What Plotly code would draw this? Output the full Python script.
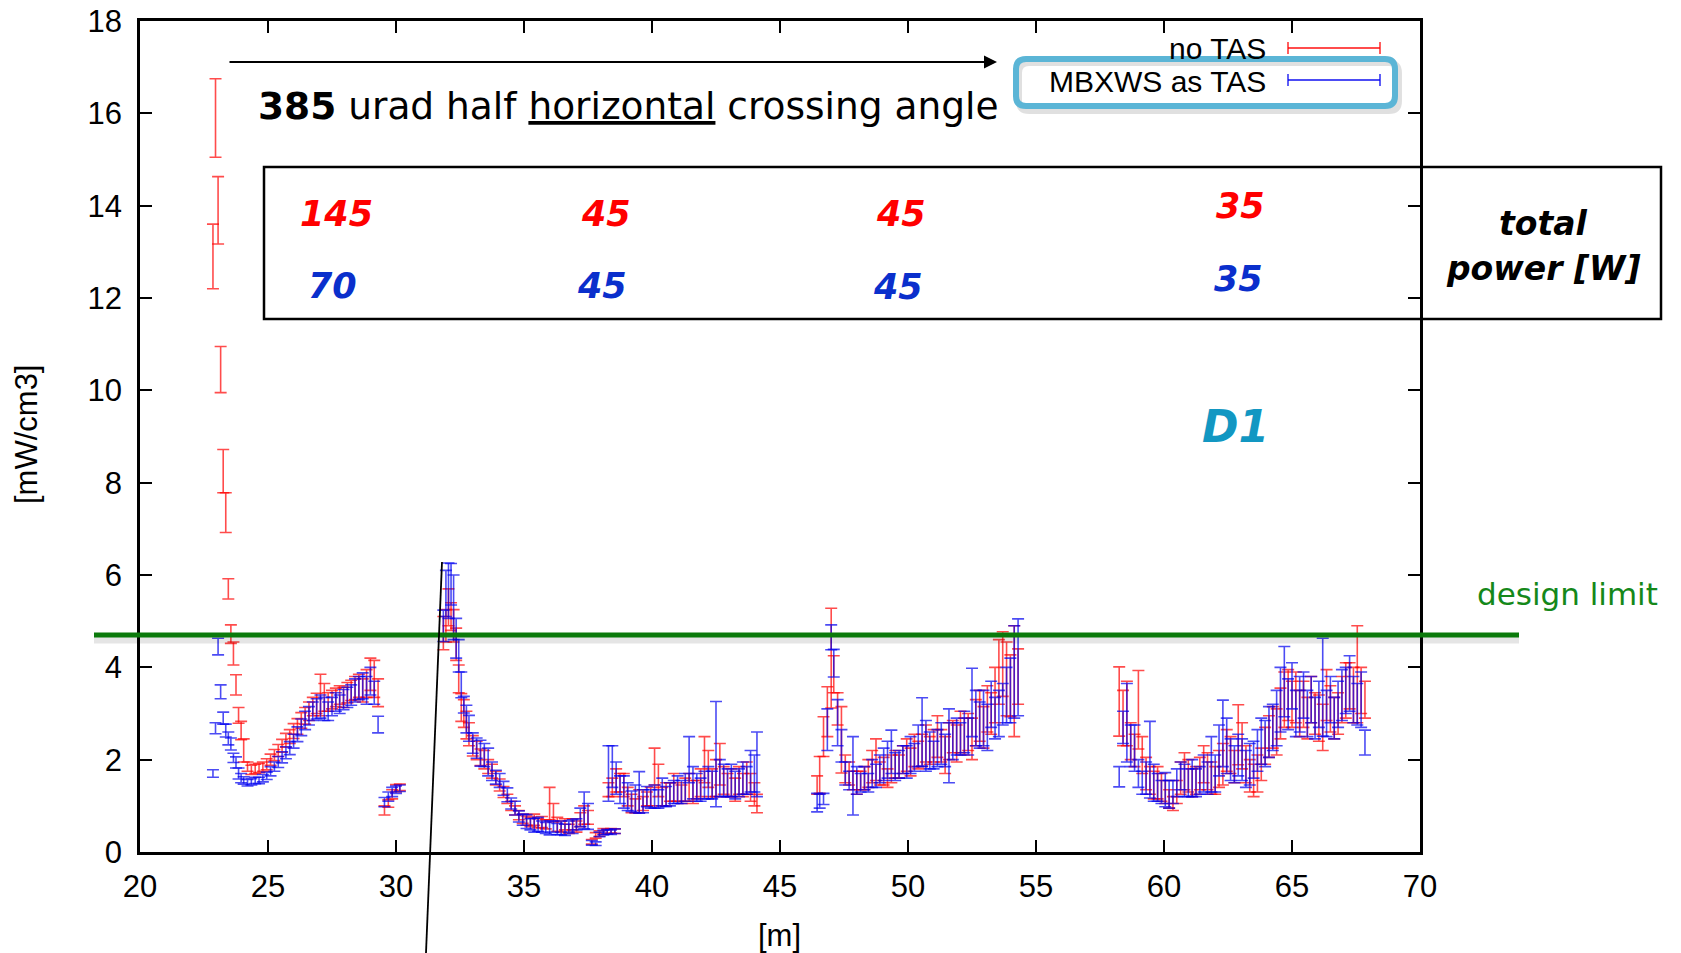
import plotly.graph_objects as go

# ---------------- data ----------------
x_s1 = [22.85, 22.95, 23.05, 23.15, 23.25, 23.35, 23.45, 23.55, 23.65, 23.75, 23.85, 23.95, 24.05,
        24.2, 24.35, 24.5, 24.65, 24.8, 24.95, 25.1, 25.25, 25.4, 25.55, 25.7, 25.85, 26.0, 26.15,
        26.3, 26.45, 26.6, 26.75, 26.9, 27.05, 27.2, 27.35, 27.5, 27.65, 27.8, 27.95, 28.1, 28.25,
        28.4, 28.55, 28.7, 28.85, 29.0, 29.15, 29.3, 29.55, 29.7, 29.85, 30.0, 30.15]
red_s1 = [12.9, 15.9, 13.9, 10.45, 8.25, 7.35, 5.7, 4.72, 4.3, 3.62, 2.96, 2.63, 2.2,
          1.85, 1.78, 1.8, 1.82, 1.85, 1.9, 2.0, 2.1, 2.2, 2.3, 2.42, 2.5, 2.62, 2.72,
          2.85, 2.95, 3.05, 3.15, 3.22, 3.4, 3.35, 3.25, 3.3, 3.35, 3.4, 3.35, 3.45, 3.5,
          3.55, 3.6, 3.5, 3.65, 3.85, 3.75, 3.45, 0.9, 1.05, 1.25, 1.38, 1.4]
red_err_s1 = [0.7, 0.85, 0.73, 0.5, 0.47, 0.43, 0.22, 0.2, 0.25, 0.22, 0.17, 0.2, 0.25,
              0.1, 0.1, 0.1, 0.1, 0.1, 0.12, 0.12, 0.12, 0.13, 0.14, 0.15, 0.15, 0.16, 0.17,
              0.17, 0.18, 0.2, 0.2, 0.22, 0.45, 0.3, 0.2, 0.2, 0.2, 0.2, 0.22, 0.22, 0.22,
              0.25, 0.25, 0.25, 0.3, 0.35, 0.4, 0.3, 0.1, 0.08, 0.1, 0.08, 0.07]
blue_s1 = [1.7, 2.68, 4.45, 3.47, 2.9, 2.63, 2.46, 2.34, 2.04, 1.94, 1.7, 1.6, 1.55,
           1.5, 1.52, 1.55, 1.55, 1.6, 1.65, 1.75, 1.85, 1.95, 2.05, 2.15, 2.25, 2.4, 2.55,
           2.7, 2.85, 2.95, 3.05, 3.1, 3.15, 3.1, 3.05, 3.15, 3.25, 3.2, 3.3, 3.35, 3.4,
           3.5, 3.55, 3.6, 3.5, 3.7, 3.45, 2.76, 1.08, 1.2, 1.3, 1.35, 1.38]
blue_err_s1 = [0.08, 0.12, 0.18, 0.15, 0.13, 0.14, 0.14, 0.13, 0.1, 0.12, 0.12, 0.1, 0.08,
               0.07, 0.07, 0.07, 0.07, 0.08, 0.08, 0.1, 0.1, 0.12, 0.12, 0.13, 0.14, 0.15, 0.16,
               0.18, 0.2, 0.2, 0.2, 0.22, 0.25, 0.25, 0.2, 0.2, 0.2, 0.2, 0.22, 0.22, 0.22,
               0.25, 0.25, 0.28, 0.3, 0.3, 0.25, 0.18, 0.1, 0.1, 0.1, 0.08, 0.07]

x_s2 = [31.85, 31.95, 32.05, 32.15, 32.25, 32.35, 32.45, 32.55, 32.65, 32.75, 32.85,
        33.0, 33.15, 33.3, 33.45, 33.6, 33.75, 33.9, 34.05, 34.2, 34.35, 34.5, 34.65, 34.8, 34.95,
        35.1, 35.25, 35.4, 35.55, 35.7, 35.85, 36.0, 36.15, 36.3, 36.45, 36.6, 36.75, 36.9,
        37.05, 37.2, 37.35, 37.5, 37.65, 37.8, 37.95, 38.1, 38.25, 38.4, 38.55]
red_s2 = [4.74, 4.9, 5.3, 5.1, 4.9, 4.5, 3.75, 3.13, 3.0, 2.75, 2.55,
          2.3, 2.2, 2.05, 2.0, 1.85, 1.75, 1.6, 1.45, 1.3, 1.15, 1.0, 0.9, 0.8, 0.72,
          0.68, 0.65, 0.7, 0.62, 0.65, 0.6, 1.05, 0.85, 0.6, 0.55, 0.6, 0.5, 0.6,
          0.55, 0.7, 0.8, 0.75, 0.22, 0.36, 0.4, 0.45, 0.44, 0.46, 0.45]
red_err_s2 = [0.36, 0.35, 0.4, 0.3, 0.35, 0.35, 0.3, 0.3, 0.3, 0.3, 0.25,
              0.22, 0.2, 0.18, 0.2, 0.15, 0.15, 0.15, 0.13, 0.12, 0.1, 0.1, 0.1, 0.1, 0.1,
              0.1, 0.1, 0.12, 0.1, 0.12, 0.1, 0.35, 0.2, 0.15, 0.12, 0.12, 0.1, 0.12,
              0.12, 0.15, 0.2, 0.15, 0.05, 0.06, 0.06, 0.06, 0.05, 0.05, 0.05]
blue_s2 = [4.9, 5.6, 5.66, 5.8, 5.3, 4.63, 4.25, 3.62, 3.19, 2.88, 2.68,
           2.36, 2.25, 2.14, 2.1, 1.95, 1.75, 1.62, 1.55, 1.38, 1.24, 1.05, 0.95, 0.77, 0.7,
           0.66, 0.6, 0.58, 0.6, 0.55, 0.52, 0.52, 0.55, 0.5, 0.52, 0.48, 0.55, 0.55,
           0.6, 0.75, 0.9, 0.77, 0.2, 0.18, 0.38, 0.42, 0.44, 0.43, 0.45]
blue_err_s2 = [0.34, 0.5, 0.6, 0.45, 0.7, 0.43, 0.35, 0.28, 0.18, 0.3, 0.28,
               0.22, 0.22, 0.28, 0.25, 0.3, 0.2, 0.15, 0.15, 0.15, 0.15, 0.12, 0.15, 0.12, 0.12,
               0.15, 0.12, 0.15, 0.15, 0.12, 0.12, 0.15, 0.12, 0.12, 0.15, 0.12, 0.12, 0.15,
               0.12, 0.2, 0.4, 0.28, 0.05, 0.04, 0.05, 0.05, 0.05, 0.05, 0.05]

x_s3 = [38.3, 38.45, 38.6, 38.75, 38.9, 39.05, 39.2, 39.35, 39.5, 39.65, 39.8, 39.95,
        40.1, 40.25, 40.4, 40.55, 40.7, 40.85, 41.0, 41.15, 41.3, 41.45, 41.6, 41.75, 41.9,
        42.05, 42.2, 42.35, 42.5, 42.65, 42.8, 42.95, 43.1, 43.25, 43.4, 43.55, 43.7, 43.85,
        44.0, 44.1]
red_s3 = [1.35, 1.4, 1.55, 1.5, 1.45, 1.2, 1.05, 1.0, 1.1, 1.05, 1.15, 1.2,
          1.85, 1.55, 1.2, 1.25, 1.3, 1.4, 1.3, 1.25, 1.35, 1.4, 1.3, 1.35, 1.5,
          2.0, 1.8, 1.5, 1.6, 1.9, 1.55, 1.45, 1.5, 1.35, 1.55, 1.45, 1.6, 1.4,
          1.25, 1.05]
red_err_s3 = [0.15, 0.2, 0.25, 0.2, 0.25, 0.2, 0.2, 0.15, 0.25, 0.15, 0.15, 0.2,
              0.4, 0.35, 0.2, 0.25, 0.2, 0.3, 0.2, 0.2, 0.25, 0.3, 0.25, 0.2, 0.3,
              0.5, 0.4, 0.3, 0.4, 0.45, 0.3, 0.25, 0.3, 0.25, 0.3, 0.25, 0.35, 0.3,
              0.25, 0.2]
blue_s3 = [1.7, 1.85, 1.6, 1.35, 1.3, 1.2, 1.1, 1.15, 1.29, 1.1, 1.2, 1.15,
           1.2, 1.15, 1.3, 1.2, 1.25, 1.3, 1.35, 1.3, 1.4, 2.0, 1.5, 1.4, 1.35,
           1.45, 1.5, 1.45, 2.12, 1.6, 1.55, 1.5, 1.55, 1.45, 1.5, 1.6, 1.55, 1.75,
           1.7, 1.9]
blue_err_s3 = [0.6, 0.45, 0.35, 0.3, 0.35, 0.3, 0.22, 0.3, 0.45, 0.25, 0.22, 0.2,
               0.25, 0.2, 0.3, 0.22, 0.25, 0.25, 0.3, 0.25, 0.3, 0.5, 0.35, 0.3, 0.25,
               0.3, 0.35, 0.3, 1.14, 0.4, 0.35, 0.3, 0.35, 0.3, 0.3, 0.35, 0.3, 0.45,
               0.4, 0.7]

x_s4 = [46.45, 46.55, 46.7, 46.85, 47.0, 47.1, 47.25, 47.4, 47.55, 47.7, 47.85, 48.0,
        48.15, 48.3, 48.45, 48.6, 48.75, 48.9, 49.05, 49.2, 49.35, 49.5, 49.65, 49.8, 49.95,
        50.1, 50.25, 50.4, 50.55, 50.7, 50.85, 51.0, 51.15, 51.3, 51.45, 51.6, 51.75, 51.9,
        52.05, 52.2, 52.35, 52.5, 52.65, 52.8, 52.95, 53.1, 53.25, 53.4, 53.55, 53.7, 53.85,
        54.0, 54.15, 54.3]
red_s4 = [1.45, 1.67, 2.5, 3.04, 4.2, 3.85,
          3.1, 2.43, 1.8, 1.7, 1.55, 1.5, 1.55, 1.6, 1.7, 1.85,
          2.0, 1.7, 1.75, 1.6, 1.8, 1.9, 1.85, 2.0, 2.1, 1.95,
          2.2, 2.1, 2.2, 2.35, 2.2, 2.3, 2.5, 2.3, 2.1, 2.4,
          2.5, 2.35, 2.6, 2.5, 2.6, 2.45, 2.8, 2.95, 2.7, 3.1,
          3.0, 3.4, 3.9, 4.07, 3.75, 3.6, 3.7, 3.8]
red_err_s4 = [0.2, 0.4, 0.43, 0.54, 1.08, 0.4,
              0.35, 0.72, 0.3, 0.25, 0.2, 0.25, 0.2, 0.25, 0.3, 0.35,
              0.45, 0.25, 0.3, 0.2, 0.3, 0.3, 0.25, 0.3, 0.35, 0.3,
              0.35, 0.3, 0.35, 0.4, 0.3, 0.35, 0.45, 0.35, 0.4, 0.4,
              0.35, 0.4, 0.45, 0.4, 0.4, 0.45, 0.5, 0.55, 0.45, 0.5,
              0.45, 0.6, 0.7, 0.7, 0.8, 0.67, 1.2, 0.6]
blue_s4 = [1.07, 1.1, 1.15, 2.65, 4.65, 4.09,
           2.8, 2.3, 1.7, 1.55, 1.65, 1.55, 1.5, 1.6, 1.5, 1.7,
           1.65, 1.8, 1.9, 2.0, 2.17, 1.85, 1.9, 2.0, 1.95, 2.1,
           2.05, 2.3, 2.6, 2.3, 2.2, 2.1, 2.25, 2.35, 2.2, 2.3,
           2.4, 2.5, 2.45, 2.6, 2.5, 3.24, 2.9, 2.75, 2.9, 2.7,
           3.2, 2.9, 3.0, 3.2, 3.4, 3.5, 3.9, 4.0]
blue_err_s4 = [0.2, 0.15, 0.12, 0.45, 0.27, 0.3,
               0.5, 0.35, 0.25, 0.2, 0.85, 0.3, 0.2, 0.25, 0.2, 0.3,
               0.25, 0.3, 0.35, 0.4, 0.47, 0.3, 0.3, 0.3, 0.35, 0.4,
               0.3, 0.45, 0.74, 0.55, 0.4, 0.3, 0.4, 0.45, 0.35, 0.8,
               0.4, 0.4, 0.35, 0.45, 0.4, 0.74, 0.6, 0.5, 0.6, 0.5,
               0.5, 0.45, 0.5, 0.45, 0.6, 0.7, 1.0, 1.05]

x_s5 = [58.25, 58.4, 58.55, 58.7, 58.85, 59.0, 59.15, 59.3, 59.45, 59.6,
        59.75, 59.9, 60.05, 60.2, 60.35, 60.5, 60.65, 60.8, 60.95, 61.1,
        61.25, 61.4, 61.55, 61.7, 61.85, 62.0, 62.15, 62.3, 62.45, 62.6,
        62.75, 62.9, 63.05, 63.2, 63.35, 63.5, 63.65, 63.8, 63.95, 64.1,
        64.25, 64.4, 64.55, 64.7, 64.85, 65.0, 65.15, 65.3, 65.45, 65.6,
        65.75, 65.9, 66.05, 66.2, 66.35, 66.5, 66.65, 66.8, 66.95, 67.1,
        67.25, 67.4, 67.55, 67.7, 67.85]
red_s5 = [3.26, 2.9, 3.0, 2.4, 2.2, 3.08, 2.1, 1.7, 1.55, 1.45,
          1.5, 1.4, 1.3, 1.15, 1.05, 1.3, 1.6, 1.75, 1.65, 1.5,
          1.55, 1.7, 1.9, 1.75, 1.6, 1.55, 1.8, 1.9, 2.2, 2.1,
          1.85, 2.54, 2.3, 1.9, 1.65, 1.55, 1.7, 1.9, 2.3, 2.5,
          2.7, 2.6, 3.0, 3.3, 3.4, 3.2, 3.35, 3.0, 3.2, 2.9,
          3.3, 3.0, 2.9, 2.7, 3.4, 3.1, 2.9, 3.0, 3.3, 3.5,
          3.6, 3.4, 3.85, 3.5, 3.3]
red_err_s5 = [0.75, 0.6, 0.7, 0.4, 0.35, 0.85, 0.4, 0.35, 0.3, 0.3,
              0.35, 0.3, 0.25, 0.2, 0.15, 0.25, 0.35, 0.4, 0.35, 0.3,
              0.3, 0.35, 0.4, 0.4, 0.35, 0.3, 0.4, 0.45, 0.45, 0.4,
              0.35, 0.65, 0.5, 0.4, 0.35, 0.35, 0.4, 0.35, 0.4, 0.45,
              0.45, 0.5, 0.55, 0.6, 0.55, 0.5, 0.55, 0.5, 0.5, 0.45,
              0.5, 0.45, 0.5, 0.5, 0.55, 0.5, 0.45, 0.45, 0.5, 0.6,
              0.5, 0.6, 1.05, 0.5, 0.4]
blue_s5 = [1.63, 2.7, 2.8, 2.3, 2.25, 1.7, 1.5, 1.6, 2.0, 1.5,
           1.4, 1.3, 1.35, 1.25, 1.3, 1.5, 1.65, 1.55, 1.5, 1.6,
           1.5, 1.55, 1.7, 1.6, 1.9, 1.7, 2.2, 2.57, 2.3, 2.0,
           1.9, 2.1, 2.0, 1.8, 1.9, 2.0, 2.2, 2.4, 2.35, 2.6,
           2.7, 2.9, 3.3, 3.69, 3.2, 3.6, 3.0, 3.2, 3.4, 3.0,
           3.3, 2.9, 3.2, 3.57, 3.0, 3.3, 2.9, 3.2, 3.4, 3.5,
           3.65, 3.3, 3.2, 3.3, 2.37]
blue_err_s5 = [0.22, 0.35, 0.85, 0.45, 0.5, 0.3, 0.25, 0.35, 0.83, 0.4,
               0.3, 0.25, 0.37, 0.3, 0.25, 0.3, 0.3, 0.35, 0.3, 0.4,
               0.3, 0.3, 0.4, 0.35, 0.6, 0.4, 0.55, 0.72, 0.6, 0.45,
               0.4, 0.45, 0.45, 0.4, 0.45, 0.4, 0.45, 0.5, 0.5, 0.55,
               0.5, 0.6, 0.7, 0.76, 0.55, 0.5, 0.5, 0.6, 0.5, 0.5,
               0.5, 0.45, 0.5, 1.06, 0.5, 0.5, 0.45, 0.5, 0.55, 0.5,
               0.6, 0.5, 0.45, 0.6, 0.27]

design_limit = 4.7
x_ticks = [20, 25, 30, 35, 40, 45, 50, 55, 60, 65, 70]
y_ticks = [0, 2, 4, 6, 8, 10, 12, 14, 16, 18]
power_red = ["145", "45", "45", "35"]
power_blue = ["70", "45", "45", "35"]
series_names = ["no TAS", "MBXWS as TAS"]

x_all = x_s1 + x_s2 + x_s3 + x_s4 + x_s5
red_all = red_s1 + red_s2 + red_s3 + red_s4 + red_s5
red_err_all = red_err_s1 + red_err_s2 + red_err_s3 + red_err_s4 + red_err_s5
blue_all = blue_s1 + blue_s2 + blue_s3 + blue_s4 + blue_s5
blue_err_all = blue_err_s1 + blue_err_s2 + blue_err_s3 + blue_err_s4 + blue_err_s5

# ---------------- layout helpers (pixel -> paper) ----------------
W, H = 1681, 953
L, R, T, B = 140, 1420, 21, 852


def px(x):
    return (x - L) / (R - L)


def py(y):
    return (B - y) / (B - T)


RED = "rgba(255,0,0,0.7)"
BLUE = "rgba(0,0,240,0.7)"

fig = go.Figure()
fig.add_trace(go.Scatter(
    x=x_all, y=red_all, mode="markers", name=series_names[0],
    marker=dict(size=1, color="rgba(0,0,0,0)"),
    error_y=dict(type="data", array=red_err_all, visible=True, color=RED, thickness=1.6, width=6),
    showlegend=False, hoverinfo="x+y"))
fig.add_trace(go.Scatter(
    x=x_all, y=blue_all, mode="markers", name=series_names[1],
    marker=dict(size=1, color="rgba(0,0,0,0)"),
    error_y=dict(type="data", array=blue_err_all, visible=True, color=BLUE, thickness=1.6, width=6),
    showlegend=False, hoverinfo="x+y"))

axis_common = dict(showline=True, linecolor="black", linewidth=2.5, mirror="ticks",
                   ticks="inside", ticklen=12, tickwidth=2, tickcolor="black",
                   showgrid=False, zeroline=False, automargin=False,
                   tickfont=dict(family="Liberation Sans, Arial", size=31, color="black"))
fig.update_xaxes(range=[20, 70], tickvals=x_ticks, ticktext=[str(v) for v in x_ticks],
                 ticklabelstandoff=5, **axis_common)
fig.update_yaxes(range=[0, 18], tickvals=y_ticks, ticktext=[str(v) for v in y_ticks],
                 ticklabelstandoff=9, **axis_common)

shapes = []
# green design limit line with shadow
shapes.append(dict(type="line", xref="paper", yref="paper", x0=px(94), x1=px(1519),
                   y0=py(640), y1=py(640), line=dict(color="rgba(0,0,0,0.10)", width=7), layer="above"))
shapes.append(dict(type="line", xref="paper", yref="y", x0=px(94), x1=px(1519),
                   y0=design_limit, y1=design_limit, line=dict(color="#0b7a0b", width=5), layer="above"))
# slanted black line
shapes.append(dict(type="line", xref="paper", yref="paper", x0=px(442), y0=py(562),
                   x1=px(426), y1=py(953), line=dict(color="black", width=1.8), layer="above"))
# power box
shapes.append(dict(type="rect", xref="paper", yref="paper", x0=px(264), x1=px(1661),
                   y0=py(319), y1=py(167), line=dict(color="black", width=2.5), layer="above"))
# legend samples
for yy, col in [(48, RED), (80, BLUE)]:
    shapes.append(dict(type="line", xref="paper", yref="paper", x0=px(1288), x1=px(1380),
                       y0=py(yy), y1=py(yy), line=dict(color=col, width=1.8)))
    for xx in (1288, 1380):
        shapes.append(dict(type="line", xref="paper", yref="paper", x0=px(xx), x1=px(xx),
                           y0=py(yy - 6), y1=py(yy + 6), line=dict(color=col, width=1.8)))


def rounded_path(x0, y0, x1, y1, r):
    pts = [
        ("M", x0 + r, y0), ("L", x1 - r, y0), ("Q", x1, y0, x1, y0 + r),
        ("L", x1, y1 - r), ("Q", x1, y1, x1 - r, y1), ("L", x0 + r, y1),
        ("Q", x0, y1, x0, y1 - r), ("L", x0, y0 + r), ("Q", x0, y0, x0 + r, y0)]
    out = []
    for p in pts:
        if p[0] == "Q":
            out.append("Q%.5f,%.5f %.5f,%.5f" % (px(p[1]), py(p[2]), px(p[3]), py(p[4])))
        else:
            out.append("%s%.5f,%.5f" % (p[0], px(p[1]), py(p[2])))
    return " ".join(out) + " Z"


shapes.append(dict(type="path", xref="paper", yref="paper", path=rounded_path(1019, 63, 1399, 111, 10),
                   line=dict(color="rgba(0,0,0,0.12)", width=6)))
shapes.append(dict(type="path", xref="paper", yref="paper", path=rounded_path(1016, 59, 1395, 106, 10),
                   line=dict(color="#5bb5d6", width=6)))


def note(xx, yy, text, size, color="black", family="DejaVu Sans", xanchor="center", **kw):
    return dict(xref="paper", yref="paper", x=px(xx), y=py(yy), text=text, showarrow=False,
                xanchor=xanchor, yanchor="middle", font=dict(family=family, size=size, color=color), **kw)


annotations = []
# arrow
annotations.append(dict(xref="paper", yref="paper", x=px(997), y=py(62), ax=-769, ay=0,
                        text="", showarrow=True, arrowhead=2, arrowsize=1.3, arrowwidth=2,
                        arrowcolor="black", standoff=0))
annotations.append(note(256, 106, "<b>385</b> urad half <u>horizontal</u> crossing angle", 37.5, xanchor="left"))
red_pos = [(336, 214), (606, 214), (901, 214), (1240, 206)]
blue_pos = [(332, 286), (602, 286), (898, 287), (1238, 279)]
for t, (xx, yy) in zip(power_red, red_pos):
    annotations.append(note(xx, yy, "<b><i>%s</i></b>" % t, 35, "#ff0000"))
for t, (xx, yy) in zip(power_blue, blue_pos):
    annotations.append(note(xx, yy, "<b><i>%s</i></b>" % t, 35, "#0a2fcc"))
annotations.append(note(1543, 224, "<b><i>total</i></b>", 33))
annotations.append(note(1543, 269, "<b><i>power [W]</i></b>", 33))
annotations.append(note(1235, 426, "<b><i>D1</i></b>", 44, "#1297c2"))
annotations.append(note(1567, 594, "design limit", 31, "#15881a"))
# legend texts
annotations.append(note(1268, 48, series_names[0], 30, family="Liberation Sans, Arial", xanchor="right"))
annotations.append(note(1268, 81, series_names[1], 30, family="Liberation Sans, Arial", xanchor="right"))
# axis titles
annotations.append(note(779, 935, "[m]", 31, family="Liberation Sans, Arial"))
annotations.append(note(26, 434, "[mW/cm3]", 31, family="Liberation Sans, Arial", textangle=-90))

fig.update_layout(width=W, height=H, margin=dict(l=L, r=W - R, t=T, b=H - B, pad=0),
                  plot_bgcolor="white", paper_bgcolor="white",
                  shapes=shapes, annotations=annotations, showlegend=False)

fig.write_html("out.html")
